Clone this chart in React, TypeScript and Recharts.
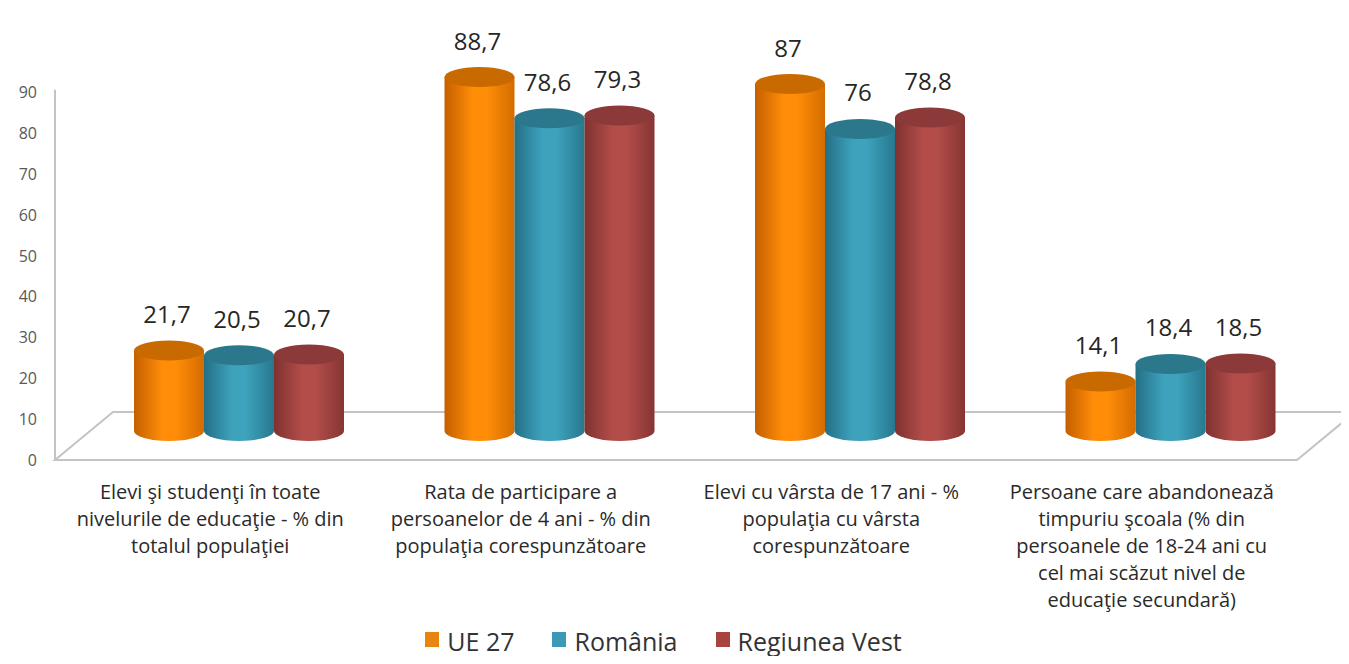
import React from 'react';
import { BarChart, Bar, XAxis, YAxis, Legend, ReferenceArea, LabelList } from 'recharts';

const categories = [
  'Elevi şi studenţi în toate\nnivelurile de educaţie - % din\ntotalul populaţiei',
  'Rata de participare a\npersoanelor de 4 ani -  % din\npopulaţia corespunzătoare',
  'Elevi  cu vârsta de 17 ani - %\npopulaţia cu vârsta\ncorespunzătoare',
  'Persoane care abandonează\ntimpuriu şcoala (% din\npersoanele de 18-24 ani cu\ncel mai scăzut nivel de\neducaţie secundară)',
];
const seriesNames = ['UE 27', 'România', 'Regiunea Vest'];
const ue27 = [21.7, 88.7, 87, 14.1];
const romania = [20.5, 78.6, 76, 18.4];
const regiuneaVest = [20.7, 79.3, 78.8, 18.5];
const yTicks = [0, 10, 20, 30, 40, 50, 60, 70, 80, 90];

const data = categories.map((c, i) => ({
  category: c,
  ue27: ue27[i],
  romania: romania[i],
  vest: regiuneaVest[i],
}));

const FONT = '"Open Sans", sans-serif';
const DEPTH_X = 58;
const DEPTH_Y = 48;
const BAR_SHIFT_X = 29;
const TOP_SHIFT = 21;
const BOTTOM_SHIFT = 29;
const RY = 10;

type Pal = { id: string; edgeL: string; mid: string; edgeR: string; top: string; legend: string };
const palettes: Pal[] = [
  { id: 'gOr', edgeL: '#c45f00', mid: '#ff8d08', edgeR: '#d46c00', top: '#c86a00', legend: '#e8840f' },
  { id: 'gBl', edgeL: '#246f85', mid: '#3ea2bd', edgeR: '#27788e', top: '#2b788c', legend: '#3a9ab5' },
  { id: 'gRd', edgeL: '#7f3230', mid: '#b24d4a', edgeR: '#863533', top: '#8b3a39', legend: '#a9433f' },
];

const fmt = (v: number) => String(v).replace('.', ',');

const makeCylinder = (pal: Pal) => (props: any) => {
  const { x, y, width, height } = props;
  if (x == null || y == null) return <g />;
  const rx = width / 2;
  const cx = x + rx + BAR_SHIFT_X;
  const top = y - TOP_SHIFT;
  const bottom = y + height - BOTTOM_SHIFT;
  const d = `M${cx - rx},${top} L${cx - rx},${bottom} A${rx},${RY} 0 0 0 ${cx + rx},${bottom} L${cx + rx},${top} Z`;
  return (
    <g>
      <path d={d} fill={`url(#${pal.id})`} />
      <ellipse cx={cx} cy={top} rx={rx} ry={RY} fill={pal.top} />
    </g>
  );
};

const makeLabel = () => (props: any) => {
  const { x, y, width, value } = props;
  if (x == null || y == null) return null;
  const cx = x + width / 2 + BAR_SHIFT_X - 2;
  return (
    <text x={cx} y={y - TOP_SHIFT - 37} textAnchor="middle" dominantBaseline="central"
      fontFamily={FONT} fontSize={24} fill="#262626">
      {fmt(value)}
    </text>
  );
};

const Floor = (props: any) => {
  const { x, y, width, height } = props;
  const by = y + height;
  const stroke = '#c4c4c4';
  return (
    <g fill="none" stroke={stroke} strokeWidth={2}>
      <line x1={x} y1={y - 3} x2={x} y2={by} />
      <path d={`M${x},${by} L${x + width},${by} L${x + width + DEPTH_X},${by - DEPTH_Y} L${x + DEPTH_X},${by - DEPTH_Y} Z`} />
    </g>
  );
};

const CategoryTick = (props: any) => {
  const { x, y, payload } = props;
  const lines = String(payload.value).split('\n');
  return (
    <g>
      {lines.map((l, i) => (
        <text key={i} x={x} y={y + 31 + i * 27} textAnchor="middle" dominantBaseline="central"
          fontFamily={FONT} fontSize={20} fill="#2a2a2a">
          {l}
        </text>
      ))}
    </g>
  );
};

const LegendContent = () => (
  <div style={{ display: 'flex', justifyContent: 'center', alignItems: 'center', fontFamily: FONT, marginLeft: -22, height: 30 }}>
    {seriesNames.map((n, i) => (
      <div key={n} style={{ display: 'flex', alignItems: 'center', marginRight: i < 2 ? 38 : 0 }}>
        <span style={{ display: 'inline-block', width: 14, height: 15, background: palettes[i].legend, marginRight: 8, marginTop: -4 }} />
        <span style={{ fontSize: 25, color: '#333', lineHeight: '30px' }}>{n}</span>
      </div>
    ))}
  </div>
);

export default function App() {
  return (
    <div style={{ width: 1333, height: 648, fontFamily: FONT }}>
      <BarChart width={1333} height={648} data={data}
        margin={{ top: 44, right: 44, left: 0, bottom: 0 }}
        barCategoryGap={50} barGap={0}>
        <defs>
          {palettes.map((p) => (
            <linearGradient key={p.id} id={p.id} x1="0" y1="0" x2="1" y2="0">
              <stop offset="0%" stopColor={p.edgeL} />
              <stop offset="40%" stopColor={p.mid} />
              <stop offset="60%" stopColor={p.mid} />
              <stop offset="100%" stopColor={p.edgeR} />
            </linearGradient>
          ))}
        </defs>
        <XAxis dataKey="category" height={196} axisLine={false} tickLine={false}
          tickSize={0} tickMargin={0} interval={0} tick={<CategoryTick />} />
        <YAxis yAxisId="y" width={47} domain={[0, 100]} ticks={yTicks} axisLine={false}
          tickLine={false} tickSize={0} tickMargin={18}
          tick={{ fontSize: 16, fill: '#595959', fontFamily: FONT }} />
        <ReferenceArea yAxisId="y" y1={0} y2={90} shape={(p: any) => <Floor {...p} />} />
        <Bar yAxisId="y" dataKey="ue27" name={seriesNames[0]} isAnimationActive={false} shape={makeCylinder(palettes[0])}>
          <LabelList dataKey="ue27" content={makeLabel()} />
        </Bar>
        <Bar yAxisId="y" dataKey="romania" name={seriesNames[1]} isAnimationActive={false} shape={makeCylinder(palettes[1])}>
          <LabelList dataKey="romania" content={makeLabel()} />
        </Bar>
        <Bar yAxisId="y" dataKey="vest" name={seriesNames[2]} isAnimationActive={false} shape={makeCylinder(palettes[2])}>
          <LabelList dataKey="vest" content={makeLabel()} />
        </Bar>
        <Legend verticalAlign="middle" layout="horizontal" content={<LegendContent />}
          wrapperStyle={{ top: 618, left: 0, width: 1333, height: 30 }} />
      </BarChart>
    </div>
  );
}
